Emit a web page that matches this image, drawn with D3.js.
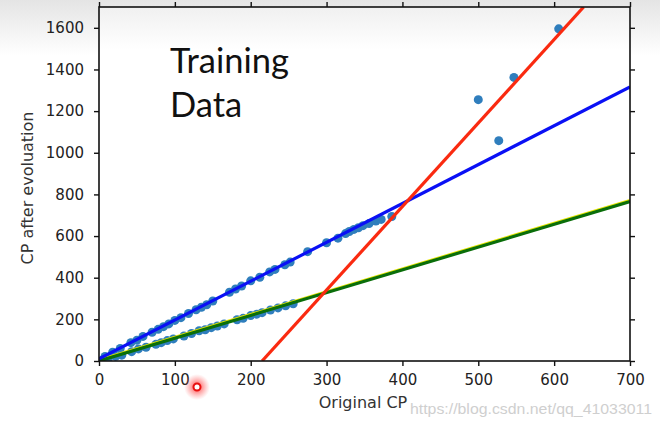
<!DOCTYPE html>
<html>
<head>
<meta charset="utf-8">
<script src="https://cdn.jsdelivr.net/npm/d3@7"></script>
<style>
  html, body { margin: 0; padding: 0; background: #fff; }
  svg { display: block; }
</style>
</head>
<body>
<svg id="chart" width="660" height="427"></svg>
<script>
// ---- data ----
const xTicks = [0, 100, 200, 300, 400, 500, 600, 700];
const yTicks = [0, 200, 400, 600, 800, 1000, 1200, 1400, 1600];

// training points (Original CP, CP after evolution)
const upperX = [8, 18, 28, 42, 50, 58, 70, 78, 85, 92, 100, 108, 118, 128, 135, 142, 150, 172, 180, 188, 200, 212, 225, 232, 245, 252, 275, 300, 315, 325, 330, 336, 342, 348, 356, 365, 372, 386];
const upperY = [22, 42, 60, 88, 100, 118, 138, 152, 165, 178, 195, 208, 228, 246, 258, 270, 288, 330, 346, 360, 385, 402, 428, 440, 462, 475, 525, 568, 590, 612, 622, 632, 640, 650, 660, 672, 680, 694];
const lowerX = [5, 12, 22, 30, 43, 52, 62, 75, 82, 90, 98, 112, 122, 132, 140, 148, 156, 165, 182, 190, 200, 208, 215, 226, 236, 246, 256];
const lowerY = [5, 10, 22, 28, 45, 58, 66, 80, 88, 98, 106, 120, 132, 145, 150, 160, 168, 178, 198, 205, 218, 225, 232, 245, 255, 265, 275];
const outlierX = [500, 527, 547, 606];
const outlierY = [1255, 1058, 1362, 1595];

// fitted lines: [intercept, slope]
const blueFit = [10, 1.866];
const redFit = [-862, 4.01];
const greenFit = [0, 1.094];

// ---- layout ----
(function () {
const svg = d3.select("#chart");
const W = 660, H = 427;
const mL = 99, mR = 630, mT = 7, mB = 361;

const defs = svg.append("defs");
const grad = defs.append("linearGradient").attr("id", "bg").attr("x1", 0).attr("y1", 0).attr("x2", 0).attr("y2", 1);
grad.append("stop").attr("offset", "0").attr("stop-color", "#e4e4e4");
grad.append("stop").attr("offset", "1").attr("stop-color", "#ffffff");
svg.append("rect").attr("width", W).attr("height", 55).attr("fill", "url(#bg)");

const x = d3.scaleLinear().domain([0, 700]).range([mL, mR]);
const y = d3.scaleLinear().domain([0, 1700]).range([mB, mT]);

defs.append("clipPath").attr("id", "clip").append("rect")
  .attr("x", mL).attr("y", mT).attr("width", mR - mL).attr("height", mB - mT);

const bgGrad = defs.append("linearGradient").attr("id", "bg2").attr("x1", 0).attr("y1", 0).attr("x2", 0).attr("y2", 1);
bgGrad.append("stop").attr("offset", "0").attr("stop-color", "#f0f0f0");
bgGrad.append("stop").attr("offset", "0.12").attr("stop-color", "#ffffff");
svg.append("rect").attr("x", mL).attr("y", mT).attr("width", mR - mL).attr("height", mB - mT).attr("fill", "url(#bg2)");

const plot = svg.append("g").attr("clip-path", "url(#clip)");

// points
const pts = [];
upperX.forEach((v, i) => pts.push([v, upperY[i]]));
lowerX.forEach((v, i) => pts.push([v, lowerY[i]]));
outlierX.forEach((v, i) => pts.push([v, outlierY[i]]));
plot.selectAll("circle.pt").data(pts).join("circle")
  .attr("class", "pt")
  .attr("cx", d => x(d[0])).attr("cy", d => y(d[1])).attr("r", 4.5)
  .attr("fill", "#2f7ebd");

// lines
const line = d3.line().x(d => x(d[0])).y(d => y(d[1]));
function fitPts(f) { return [[0, f[0]], [700, f[0] + f[1] * 700]]; }
function fitPtsRed(f) { return [[-f[0] / f[1], 0], [(1700 - f[0]) / f[1], 1700]]; }

plot.append("path").datum(fitPts(greenFit)).attr("d", line)
  .attr("fill", "none").attr("stroke", "#e6e600").attr("stroke-width", 3).attr("transform", "translate(0,-1)");
plot.append("path").datum(fitPts(greenFit)).attr("d", line)
  .attr("fill", "none").attr("stroke", "#0a6e0a").attr("stroke-width", 3.2);
plot.append("path").datum(fitPts(blueFit)).attr("d", line)
  .attr("fill", "none").attr("stroke", "#0a10f5").attr("stroke-width", 3.2);
plot.append("path").datum(fitPtsRed(redFit)).attr("d", line)
  .attr("fill", "none").attr("stroke", "#fa2a10").attr("stroke-width", 3.2);

// frame
svg.append("rect").attr("x", mL).attr("y", mT).attr("width", mR - mL).attr("height", mB - mT)
  .attr("fill", "none").attr("stroke", "#111").attr("stroke-width", 1.6);

const tickFont = "'DejaVu Sans', sans-serif";
const gB = svg.append("g").attr("transform", `translate(0,${mB})`)
  .call(d3.axisBottom(x).tickValues(xTicks).tickSize(5).tickPadding(8).tickFormat(d3.format("d")));
const gT = svg.append("g").attr("transform", `translate(0,${mT})`)
  .call(d3.axisTop(x).tickValues(xTicks).tickSize(5).tickFormat(""));
const gL = svg.append("g").attr("transform", `translate(${mL},0)`)
  .call(d3.axisLeft(y).tickValues(yTicks).tickSize(5).tickPadding(10).tickFormat(d3.format("d")));
const gR = svg.append("g").attr("transform", `translate(${mR},0)`)
  .call(d3.axisRight(y).tickValues(yTicks).tickSize(5).tickFormat(""));
[gB, gT, gL, gR].forEach(g => {
  g.select(".domain").remove();
  g.selectAll(".tick line").attr("stroke", "#111").attr("stroke-width", 1.4);
  g.selectAll(".tick text").attr("fill", "#222").style("font-family", tickFont).style("font-size", "15px");
});

// axis labels
svg.append("text").attr("x", 363).attr("y", 408).attr("text-anchor", "middle")
  .style("font-family", tickFont).style("font-size", "16px").attr("fill", "#333").text("Original CP");
svg.append("text").attr("transform", "translate(33,188) rotate(-90)").attr("text-anchor", "middle")
  .style("font-family", tickFont).style("font-size", "16px").attr("fill", "#333").text("CP after evoluation");

// annotation
const ann = svg.append("text").style("font-family", "Lato, 'Open Sans', sans-serif").style("font-size", "34.5px").attr("fill", "#111");
ann.append("tspan").attr("x", 170).attr("y", 73).text("Training");
ann.append("tspan").attr("x", 170).attr("y", 117).text("Data");

// watermark
svg.append("text").attr("x", 410).attr("y", 414).attr("textLength", 242).attr("lengthAdjust", "spacingAndGlyphs")
  .style("font-family", "'Liberation Sans', Arial, sans-serif").style("font-size", "15px").attr("fill", "#cfcfcf")
  .text("https://blog.csdn.net/qq_41033011");

// cursor mark
const glow = defs.append("radialGradient").attr("id", "glow");
glow.append("stop").attr("offset", "0.3").attr("stop-color", "#ff5050").attr("stop-opacity", 0.7);
glow.append("stop").attr("offset", "1").attr("stop-color", "#ff8080").attr("stop-opacity", 0);
svg.append("circle").attr("cx", 197).attr("cy", 387).attr("r", 13).attr("fill", "url(#glow)");
svg.append("circle").attr("cx", 197).attr("cy", 387).attr("r", 3.5).attr("fill", "#fff").attr("stroke", "#e81010").attr("stroke-width", 2);
})();
</script>
</body>
</html>
